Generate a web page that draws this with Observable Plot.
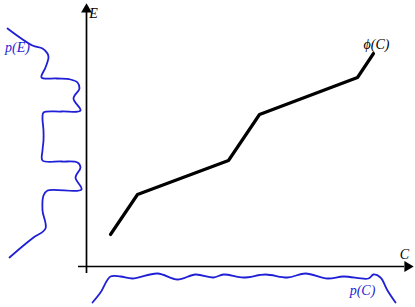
<!DOCTYPE html>
<html>
<head>
<meta charset="utf-8">
<script src="https://cdn.jsdelivr.net/npm/d3@7"></script>
<script src="https://cdn.jsdelivr.net/npm/@observablehq/plot@0.6"></script>
<style>
  html, body { margin: 0; padding: 0; background: #fff; }
</style>
</head>
<body>
<div id="chart"></div>
<script>
// φ(C): mapping of C to E (piecewise linear)
const phiC = [24, 51, 142, 173, 271, 287];
const phiE = [32, 72, 106, 152, 189, 213];

// p(E): density drawn sideways along the E axis (value = horizontal offset)
const pE_E = [238, 221, 218, 213, 209, 199, 189, 188, 187, 184, 178, 168, 156, 155, 154, 149, 136, 126, 116, 106, 105, 104, 99, 89, 77, 76, 71, 56, 38, 29, 21, 9];
const pE_p = [-79, -54, -44, -39, -38, -41, -45, -30, -16, -9, -7, -13, -6, -25, -43, -44, -43, -43, -44, -44, -25, -9, -6, -11, -5, -39, -43, -44, -41, -53, -63, -77];

// p(C): density drawn below the C axis (value = vertical offset)
const pC_C = [6, 14, 24, 34, 46, 71, 91, 109, 127, 137, 157, 179, 201, 219, 241, 257, 282, 287, 294, 301, 309];
const pC_p = [-36, -26, -10, -10, -12, -7, -13, -8, -11, -8, -11, -8, -11, -7, -12, -10, -12, -8, -11, -24, -36];

// axis labels
const labels = [
  {text: "E", C: 7, E: 253, anchor: "start", color: "black"},
  {text: "C", C: 318, E: 12, anchor: "middle", color: "black"},
  {text: "ϕ(C)", C: 290, E: 222, anchor: "middle", color: "black"},
  {text: "p(E)", C: -69, E: 219, anchor: "middle", color: "#1f1fd6"},
  {text: "p(C)", C: 276, E: -24, anchor: "middle", color: "#1f1fd6"}
];

const blue = "#1f1fd6";
const phi = phiC.map((c, i) => ({C: c, E: phiE[i]}));
const pE = pE_E.map((e, i) => ({C: pE_p[i], E: e}));
const pC = pC_C.map((c, i) => ({C: c, E: pC_p[i]}));

const chart = Plot.plot({
  width: 415,
  height: 307,
  margin: 0,
  x: {domain: [-86, 329], range: [0, 415], axis: null},
  y: {domain: [-41, 266], range: [307, 0], axis: null},
  marks: [
    // axes
    Plot.ruleX([0], {y1: -7, y2: 255, stroke: "black", strokeWidth: 1.7}),
    Plot.ruleY([0], {x1: -8, x2: 318, stroke: "black", strokeWidth: 1.7}),
    Plot.dot([{C: 0, E: 257}], {x: "C", y: "E", symbol: "triangle", r: 4, fill: "black", stroke: "none"}),
    Plot.dot([{C: 321, E: 0}], {x: "C", y: "E", symbol: "triangle", r: 4, rotate: 90, fill: "black", stroke: "none"}),
    // densities
    Plot.line(pE, {x: "C", y: "E", stroke: blue, strokeWidth: 1.8, curve: "catmull-rom"}),
    Plot.line(pC, {x: "C", y: "E", stroke: blue, strokeWidth: 1.8, curve: "catmull-rom"}),
    // mapping
    Plot.line(phi, {x: "C", y: "E", stroke: "black", strokeWidth: 3.2, strokeLinejoin: "miter"}),
    // labels
    Plot.text(labels, {x: "C", y: "E", text: "text", textAnchor: "anchor", fill: "color",
      fontSize: 14, fontStyle: "italic", fontFamily: "Liberation Serif, DejaVu Serif, serif"})
  ]
});
document.getElementById("chart").appendChild(chart);
</script>
</body>
</html>
